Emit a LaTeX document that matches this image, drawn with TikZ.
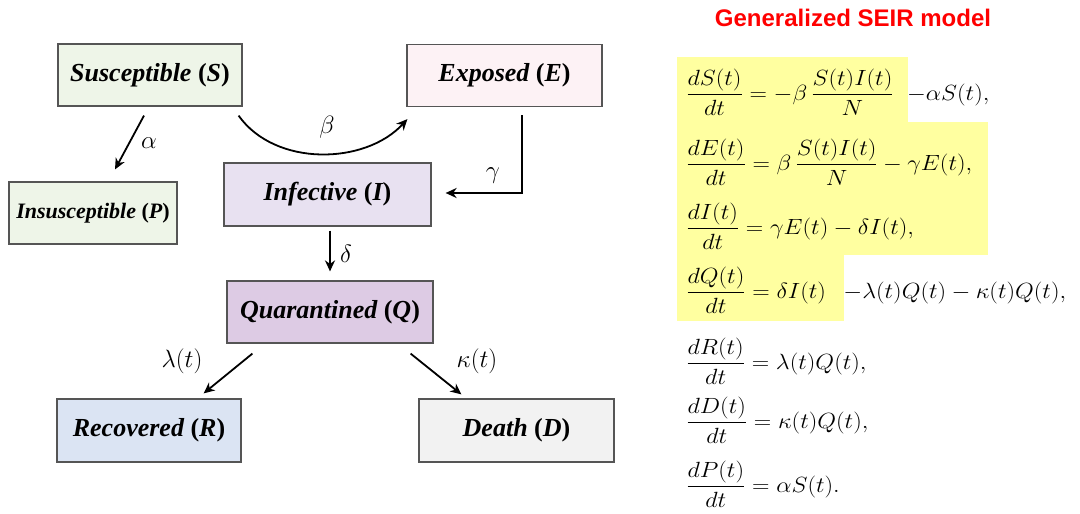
\RequirePackage{fix-cm}
\documentclass[tikz,border=0pt]{standalone}
\usepackage[no-math]{fontspec}
\setmainfont{Liberation Serif}
\newfontfamily\titlefont{Liberation Sans}
\usetikzlibrary{arrows.meta,calc}
\definecolor{cS}{RGB}{238,245,232}
\definecolor{cE}{RGB}{253,242,245}
\definecolor{cI}{RGB}{232,225,241}
\definecolor{cQ}{RGB}{221,203,228}
\definecolor{cR}{RGB}{219,228,243}
\definecolor{cD}{RGB}{242,242,242}
\definecolor{cB}{RGB}{85,85,85}
\definecolor{hl}{RGB}{255,255,160}
\definecolor{titred}{RGB}{255,0,0}
\begin{document}
\begin{tikzpicture}[x=1pt,y=-1pt,
  box/.style={draw=cB, line width=1.2pt, inner sep=0pt, minimum height=62pt,
    font=\fontsize{26}{30}\selectfont\bfseries},
  arr/.style={line width=1.8pt, -{Stealth[length=11pt,width=10pt,inset=3.5pt]}},
  lab/.style={font=\fontsize{25}{29}\selectfont, inner sep=0pt},
  eq/.style={anchor=base west, inner sep=0pt, xscale=1.1, transform shape, font=\fontsize{22}{26}\selectfont}]
\useasboundingbox (0,0) rectangle (1080,514);

% highlights
\fill[hl] (677,57) rectangle (908,122);
\fill[hl] (677,122) rectangle (988,255);
\fill[hl] (677,255) rectangle (844,321);

% boxes
\node[box, fill=cS, minimum width=184pt] (S) at (150,75) {\itshape Susceptible \upshape(\itshape S\upshape)};
\node[box, fill=cE, minimum width=195pt] (E) at (504.5,75.5) {\itshape Exposed \upshape(\itshape E\upshape)};
\node[box, fill=cS, minimum width=168pt, font=\fontsize{22}{26}\selectfont\bfseries] (P) at (93,213) {\itshape Insusceptible \upshape(\itshape P\upshape)};
\node[box, fill=cI, minimum width=207pt, minimum height=63pt] (I) at (327.5,194.5) {\itshape Infective \upshape(\itshape I\upshape)};
\node[box, fill=cQ, minimum width=206pt] (Q) at (330,312) {\itshape Quarantined \upshape(\itshape Q\upshape)};
\node[box, fill=cR, minimum width=184pt, minimum height=63pt] (R) at (149,430.5) {\itshape Recovered \upshape(\itshape R\upshape)};
\node[box, fill=cD, minimum width=195pt, minimum height=63pt] (D) at (516.5,430.5) {\itshape Death \upshape(\itshape D\upshape)};

% arrows
\draw[arr] ([xshift=-6pt,yshift=-9pt]S.south) -- ([xshift=22pt,yshift=12pt]P.north);
\draw[arr] ([xshift=-4pt,yshift=-9pt]S.south east) .. controls (275,167) and (365,165) .. ([xshift=1pt,yshift=-12pt]E.south west);
\draw[arr] ([xshift=17.5pt,yshift=-8pt]E.south) |- ([xshift=14pt,yshift=1.5pt]I.east);
\draw[arr] ([xshift=2.5pt,yshift=-4pt]I.south) -- ([yshift=9pt]Q.north);
\draw[arr] ([xshift=26pt,yshift=-10pt]Q.south west) -- ([xshift=-38pt,yshift=5pt]R.north east);
\draw[arr] ([xshift=-23pt,yshift=-10pt]Q.south east) -- ([xshift=43pt,yshift=4pt]D.north west);

% labels
\node[lab] (la) at (149,143) {$\alpha$};
\node[lab] (lb) at (327,127) {$\beta$};
\node[lab] (lg) at (493,176) {$\gamma$};
\node[lab] (ld) at (346,254) {$\delta$};
\node[lab] (ll) at (182,361) {$\lambda(t)$};
\node[lab] (lk) at (477,361) {$\kappa(t)$};

% title
\node[font=\titlefont\fontsize{24}{28}\selectfont\bfseries, text=titred, inner sep=0pt] (title) at (853,18) {Generalized SEIR model};

% equations
\node[eq] (e1) at (686,100) {$\displaystyle \frac{dS(t)}{dt} = -\beta\,\frac{S(t)I(t)}{N}\;\; {-\alpha S(t)},$};
\node[eq] (e2) at (686,170) {$\displaystyle \frac{dE(t)}{dt} = \beta\,\frac{S(t)I(t)}{N} - \gamma E(t),$};
\node[eq] (e3) at (686,234) {$\displaystyle \frac{dI(t)}{dt} = \gamma E(t) - \delta I(t),$};
\node[eq] (e4) at (686,298) {$\displaystyle \frac{dQ(t)}{dt} = \delta I(t)\;\;\, {-\lambda(t)Q(t)} - \kappa(t)Q(t),$};
\node[eq] (e5) at (686,369) {$\displaystyle \frac{dR(t)}{dt} = \lambda(t)Q(t),$};
\node[eq] (e6) at (686,428) {$\displaystyle \frac{dD(t)}{dt} = \kappa(t)Q(t),$};
\node[eq] (e7) at (686,492) {$\displaystyle \frac{dP(t)}{dt} = \alpha S(t).$};
\end{tikzpicture}
\end{document}
